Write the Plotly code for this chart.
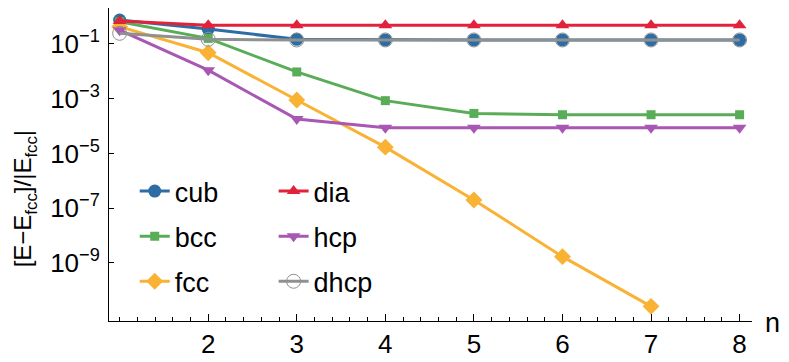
import plotly.graph_objects as go

# n values
n = [1, 2, 3, 4, 5, 6, 7, 8]
n_fcc = [1, 2, 3, 4, 5, 6, 7]

# relative energy differences
cub = [0.75, 0.35, 0.148, 0.14, 0.14, 0.14, 0.14, 0.14]
bcc = [0.65, 0.16, 0.0095, 8.5e-4, 2.9e-4, 2.6e-4, 2.6e-4, 2.6e-4]
fcc = [0.43, 0.048, 9e-4, 1.7e-5, 2e-7, 1.7e-9, 2.6e-11]
dia = [0.69, 0.48, 0.48, 0.48, 0.48, 0.48, 0.48, 0.48]
hcp = [0.32, 0.011, 1.8e-4, 8.7e-5, 8.7e-5, 8.7e-5, 8.7e-5, 8.7e-5]
dhcp = [0.245, 0.148, 0.14, 0.14, 0.14, 0.14, 0.14, 0.14]

ytick_vals = [1e-1, 1e-3, 1e-5, 1e-7, 1e-9]
ytick_text = ['10<sup>\u22121</sup>', '10<sup>\u22123</sup>', '10<sup>\u22125</sup>',
              '10<sup>\u22127</sup>', '10<sup>\u22129</sup>']
xtick_vals = [2, 3, 4, 5, 6, 7, 8]

FONT = 'Liberation Sans'

fig = go.Figure()

series = [
    ('cub', n, cub, '#2e6ca6', 'circle', 13, 'legend'),
    ('bcc', n, bcc, '#5aad57', 'square', 9, 'legend'),
    ('fcc', n_fcc, fcc, '#f9b234', 'diamond', 13, 'legend'),
    ('dia', n, dia, '#e2223b', 'triangle-up', 12, 'legend2'),
    ('hcp', n, hcp, '#a857b3', 'triangle-down', 12, 'legend2'),
]
for name, xs, ys, col, sym, size, leg in series:
    fig.add_trace(go.Scatter(
        x=xs, y=ys, name=name, mode='lines+markers',
        line=dict(color=col, width=3),
        marker=dict(color=col, symbol=sym, size=size, line=dict(width=0)),
        legend=leg, legendgroup=name,
    ))

fig.add_trace(go.Scatter(
    x=n, y=dhcp, name='dhcp', mode='lines+markers',
    line=dict(color='#8e9190', width=3),
    marker=dict(color='rgba(0,0,0,0)', symbol='circle', size=14,
                line=dict(color='#8e9190', width=1)),
    legend='legend2', legendgroup='dhcp',
))

# page body has an 8px margin, so the figure is offset by 8px in the window
fig.update_layout(
    width=781, height=354,
    margin=dict(l=101, r=37, t=0, b=41, autoexpand=False),
    plot_bgcolor='white', paper_bgcolor='white',
    font=dict(family=FONT, size=26, color='black'),
    legend=dict(x=0.04, y=0.492, xanchor='left', yanchor='top',
                bgcolor='rgba(0,0,0,0)', tracegroupgap=7,
                font=dict(size=27)),
    legend2=dict(x=0.256, y=0.492, xanchor='left', yanchor='top',
                 bgcolor='rgba(0,0,0,0)', tracegroupgap=7,
                 font=dict(size=27)),
    annotations=[
        dict(text='[E\u2212E<sub>fcc</sub>]/|E<sub>fcc</sub>|', xref='paper', yref='paper',
             x=-0.13, y=0.39, xanchor='center', yanchor='middle', textangle=-90,
             showarrow=False, font=dict(size=24)),
        dict(text='n', xref='paper', yref='paper', x=1, y=0, xshift=11, yshift=-2,
             xanchor='left', yanchor='middle', showarrow=False, font=dict(size=27)),
    ],
)

fig.update_xaxes(
    range=[0.88, 8.14], tickvals=xtick_vals, ticks='inside', ticklen=7,
    tickcolor='black', showline=True, linecolor='black', linewidth=1,
    showgrid=False, zeroline=False, ticklabelstandoff=0, automargin=False,
    minor=dict(ticks='inside', ticklen=4, tick0=0, dtick=0.2, tickcolor='black', showgrid=False),
)
fig.update_yaxes(
    type='log', range=[-11.12, 0.314], tickvals=ytick_vals, ticktext=ytick_text,
    ticks='inside', ticklen=5, tickcolor='black', showline=True, linecolor='black',
    linewidth=1, showgrid=False, zeroline=False, ticklabelstandoff=3, automargin=False,
)

fig.write_html("out.html")
